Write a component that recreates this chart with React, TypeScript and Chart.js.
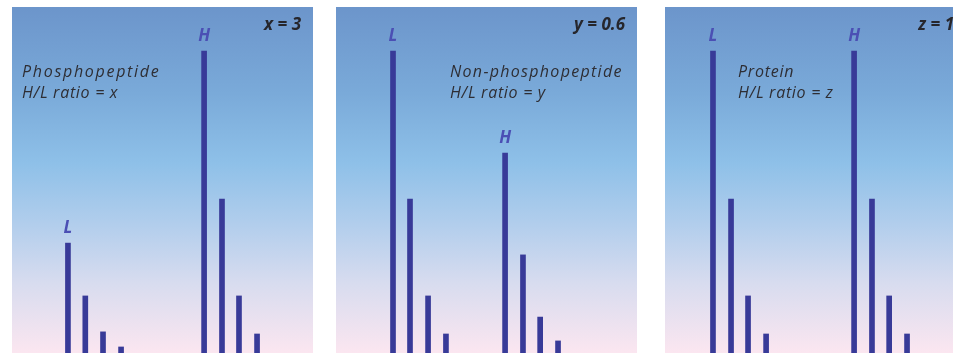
import React, { useEffect, useRef } from "react";
import { Chart, registerables } from "chart.js";

Chart.register(...registerables);

// ---- data ----
const panelTitles = ["Phosphopeptide", "Non-phosphopeptide", "Protein"];
const ratioLines = ["H/L ratio = x", "H/L ratio = y", "H/L ratio = z"];
const ratioValues = ["x = 3", "y = 0.6", "z = 1"];
const peakLabels = ["L", "H"];

// isotope peak positions (relative m/z units)
const phosphoLightX = [3.16, 4.14, 5.14, 6.16];
const phosphoHeavyX = [10.85, 11.86, 12.82, 13.84];
const nonPhosphoLightX = [3.22, 4.18, 5.2, 6.21];
const nonPhosphoHeavyX = [9.55, 10.56, 11.53, 12.54];
const proteinLightX = [2.71, 3.73, 4.69, 5.71];
const proteinHeavyX = [10.68, 11.69, 12.66, 13.67];

// relative intensities (%)
const phosphoLightY = [36.4, 18.9, 7.0, 2.0];
const phosphoHeavyY = [100, 51, 18.9, 6.3];
const nonPhosphoLightY = [100, 51, 18.9, 6.3];
const nonPhosphoHeavyY = [66.2, 32.5, 11.9, 4.0];
const proteinLightY = [100, 51, 18.9, 6.3];
const proteinHeavyY = [100, 51, 18.9, 6.3];

const panels = [
  { lx: phosphoLightX, ly: phosphoLightY, hx: phosphoHeavyX, hy: phosphoHeavyY },
  { lx: nonPhosphoLightX, ly: nonPhosphoLightY, hx: nonPhosphoHeavyX, hy: nonPhosphoHeavyY },
  { lx: proteinLightX, ly: proteinLightY, hx: proteinHeavyX, hy: proteinHeavyY },
];

// ---- layout / style ----
const PANEL_LEFT = [12, 336, 665];
const PANEL_TOP = 7;
const PANEL_W = 301;
const PANEL_H = 346;
const TITLE_X = [10, 114, 73];
const TITLE_SPACING = ["1.7px", "1.3px", "0.75px"];
const BAR_COLOR = "#383a98";
const LABEL_COLOR = "#4b4fb4";
const TEXT_COLOR = "#2e2e34";

const toPts = (xs: number[], ys: number[]) => xs.map((x, i) => ({ x, y: ys[i] }));

const bgPlugin = {
  id: "bgGradient",
  beforeDraw(chart: any) {
    const { ctx, width, height } = chart;
    const g = ctx.createLinearGradient(0, 0, 0, height);
    g.addColorStop(0, "#6c95cb");
    g.addColorStop(0.25, "#7aaad9");
    g.addColorStop(0.45, "#8ec0e8");
    g.addColorStop(0.62, "#b0cdec");
    g.addColorStop(0.8, "#d8dcef");
    g.addColorStop(1, "#fbe6f0");
    ctx.save();
    ctx.fillStyle = g;
    ctx.fillRect(0, 0, width, height);
    ctx.restore();
  },
};

const textPlugin = {
  id: "panelText",
  afterDatasetsDraw(chart: any, _args: any, opts: any) {
    const { ctx } = chart;
    ctx.save();
    // peak labels
    ctx.font = "italic bold 17px 'Open Sans'";
    ctx.fillStyle = LABEL_COLOR;
    ctx.textAlign = "center";
    ctx.textBaseline = "alphabetic";
    chart.data.datasets.forEach((ds: any, i: number) => {
      const meta = chart.getDatasetMeta(i);
      const el = meta.data[0];
      if (el) ctx.fillText(ds.label, el.x, el.y - 10);
    });
    // title
    ctx.fillStyle = TEXT_COLOR;
    ctx.textAlign = "left";
    ctx.font = "italic 500 16px 'Open Sans'";
    (ctx as any).letterSpacing = opts.spacing;
    ctx.fillText(opts.title, opts.titleX, 70);
    (ctx as any).letterSpacing = "0.7px";
    ctx.fillText(opts.ratio, opts.titleX, 91);
    (ctx as any).letterSpacing = "0px";
    // value
    ctx.font = "italic bold 17px 'Open Sans'";
    ctx.textAlign = "right";
    ctx.fillStyle = "#26262c";
    ctx.fillText(opts.value, 289, 23);
    ctx.restore();
  },
};

function Panel({ idx }: { idx: number }) {
  const ref = useRef<HTMLCanvasElement>(null);
  useEffect(() => {
    const p = panels[idx];
    const chart = new Chart(ref.current!, {
      type: "bar",
      data: {
        datasets: [
          {
            label: peakLabels[0],
            data: toPts(p.lx, p.ly),
            backgroundColor: BAR_COLOR,
            barThickness: 5,
            grouped: false,
          } as any,
          {
            label: peakLabels[1],
            data: toPts(p.hx, p.hy),
            backgroundColor: BAR_COLOR,
            barThickness: 5,
            grouped: false,
          } as any,
        ],
      },
      options: {
        responsive: false,
        animation: false,
        layout: { padding: 0 },
        scales: {
          x: { type: "linear", min: 0, max: 17, display: false, offset: false, grid: { offset: false } },
          y: { min: 0, max: 114.6, display: false },
        },
        plugins: {
          legend: { display: false },
          tooltip: { enabled: false },
          panelText: {
            title: panelTitles[idx],
            ratio: ratioLines[idx],
            value: ratioValues[idx],
            titleX: TITLE_X[idx],
            spacing: TITLE_SPACING[idx],
          },
        } as any,
      },
      plugins: [bgPlugin, textPlugin],
    });
    return () => chart.destroy();
  }, [idx]);
  return (
    <div
      style={{
        position: "absolute",
        left: PANEL_LEFT[idx],
        top: PANEL_TOP,
        width: PANEL_W,
        height: PANEL_H,
      }}
    >
      <canvas ref={ref} width={PANEL_W} height={PANEL_H} style={{ display: "block" }} />
    </div>
  );
}

export default function App() {
  return (
    <div
      style={{
        position: "absolute",
        left: 0,
        top: 0,
        width: 953,
        height: 353,
        overflow: "hidden",
        background: "#ffffff",
      }}
    >
      {[0, 1, 2].map((i) => (
        <Panel key={i} idx={i} />
      ))}
    </div>
  );
}
